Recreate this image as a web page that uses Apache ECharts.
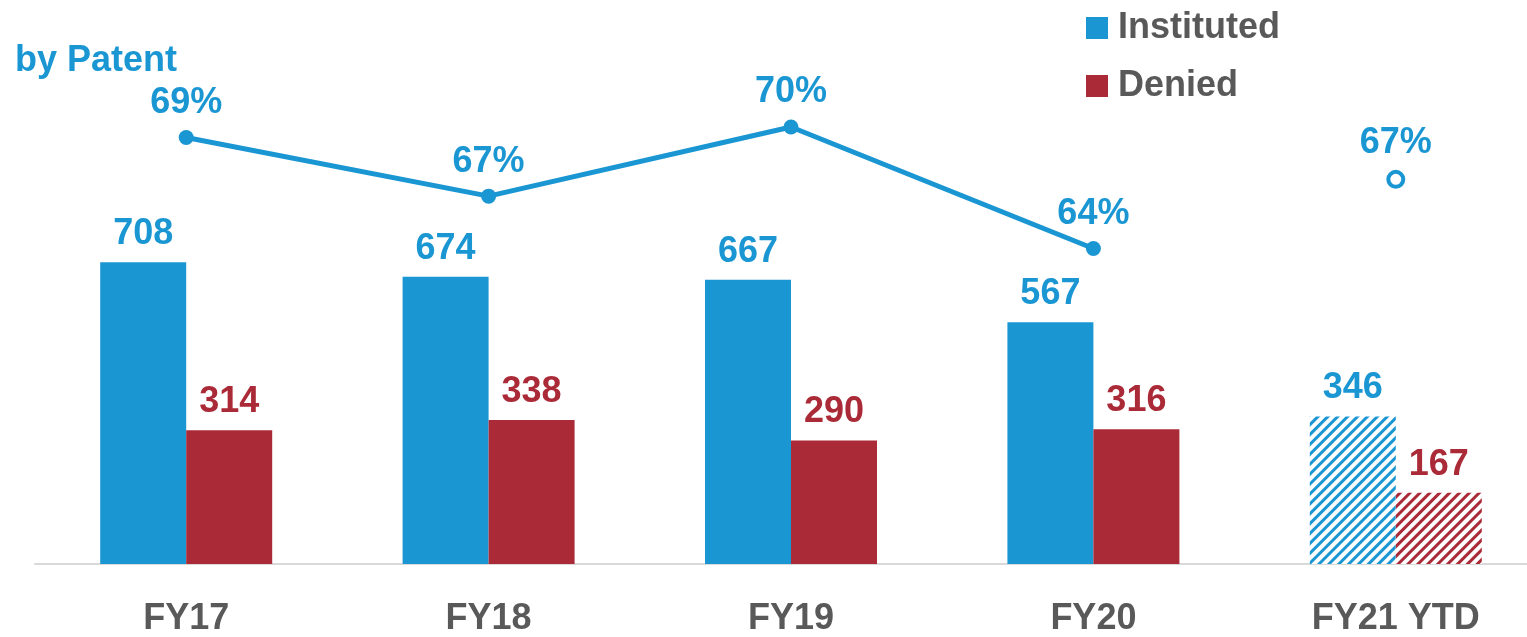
<!DOCTYPE html>
<html>
<head>
<meta charset="utf-8">
<script src="https://cdn.jsdelivr.net/npm/echarts@6/dist/echarts.min.js"></script>
<style>
  html, body { margin: 0; padding: 0; background: #fff; overflow: hidden; }
  #container { width: 1547px; height: 637px; }
</style>
</head>
<body>
<div id="container"></div>
<script>
// 类目
const categories = ['FY17', 'FY18', 'FY19', 'FY20', 'FY21 YTD'];
// 柱状数据
const instituted = [708, 674, 667, 567, 346];
const denied = [314, 338, 290, 316, 167];
// 比例（估计的原始值，标签四舍五入）
const rateLine = [69.4, 66.6, 69.9, 64.1, null];
const rateYtd = [null, null, null, null, 67.4];

const BLUE = '#1A96D3';
const RED = '#AA2A37';
const GRAY = '#595959';
const FONT = '"Liberation Sans", Arial, sans-serif';

// 图表容器比窗口略宽，最后一个类目的右半部分超出画面
const dom = document.getElementById('container');
const myChart = echarts.init(dom);

// 最后一列用斜线填充
function barData(values, color) {
  return values.map((v, i) => {
    if (i === values.length - 1) {
      return {
        value: v,
        itemStyle: {
          color: '#fff',
          decal: {
            symbol: 'rect',
            symbolSize: 1,
            color: color,
            dashArrayX: [1, 0],
            dashArrayY: [3, 4],
            rotation: -Math.PI / 4
          }
        }
      };
    }
    return v;
  });
}

const labelBase = {
  show: true,
  position: 'top',
  fontSize: 36,
  fontWeight: 'bold',
  fontFamily: FONT
};

const option = {
  animation: false,
  title: {
    text: 'by Patent',
    left: 10,
    top: 38,
    textStyle: { color: BLUE, fontSize: 36, fontWeight: 'bold', fontFamily: FONT }
  },
  legend: {
    orient: 'vertical',
    left: 1081,
    top: 5,
    itemWidth: 22,
    itemHeight: 22,
    itemGap: 22,
    icon: 'rect',
    data: ['Instituted', 'Denied'],
    textStyle: {
      color: GRAY,
      fontSize: 36,
      fontWeight: 'bold',
      fontFamily: FONT,
      padding: [0, 0, 0, 5]
    }
  },
  grid: {
    left: 35,
    top: 10,
    right: 0,
    height: 555,
    containLabel: false
  },
  xAxis: {
    type: 'category',
    data: categories,
    axisLine: { lineStyle: { color: '#D9D9D9', width: 2 } },
    axisTick: { show: false },
    axisLabel: {
      color: GRAY,
      fontSize: 36,
      fontWeight: 'bold',
      fontFamily: FONT,
      margin: 37
    }
  },
  yAxis: [
    { type: 'value', min: 0, max: 1300, show: false },
    { type: 'value', min: 49.05, max: 75.48, show: false }
  ],
  series: [
    {
      name: 'Instituted',
      type: 'bar',
      barWidth: 86,
      barGap: '0%',
      itemStyle: { color: BLUE },
      label: Object.assign({}, labelBase, { color: BLUE, distance: 10 }),
      data: barData(instituted, BLUE)
    },
    {
      name: 'Denied',
      type: 'bar',
      barWidth: 86,
      itemStyle: { color: RED },
      label: Object.assign({}, labelBase, { color: RED, distance: 10 }),
      data: barData(denied, RED)
    },
    {
      name: 'rate',
      type: 'line',
      yAxisIndex: 1,
      symbol: 'circle',
      symbolSize: 15,
      connectNulls: false,
      lineStyle: { color: BLUE, width: 5 },
      itemStyle: { color: BLUE },
      label: Object.assign({}, labelBase, {
        color: BLUE,
        distance: 9,
        formatter: p => Math.round(p.value) + '%'
      }),
      data: rateLine
    },
    {
      name: 'rateYtd',
      type: 'scatter',
      yAxisIndex: 1,
      symbol: 'circle',
      symbolSize: 15,
      itemStyle: { color: '#fff', borderColor: BLUE, borderWidth: 4, opacity: 1 },
      label: Object.assign({}, labelBase, {
        color: BLUE,
        distance: 9,
        formatter: p => Math.round(p.value) + '%'
      }),
      data: rateYtd
    }
  ]
};

myChart.setOption(option, true);
</script>
</body>
</html>
